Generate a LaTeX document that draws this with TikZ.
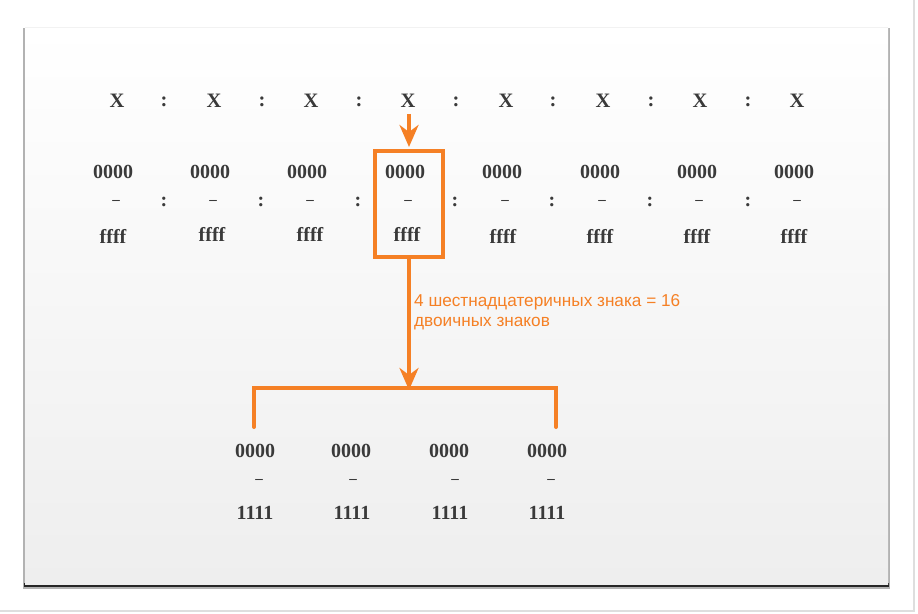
\documentclass[tikz,border=0pt]{standalone}
\usepackage{fontspec}
\setmainfont{Liberation Serif}
\newfontfamily\notefont{Liberation Sans}
\usetikzlibrary{arrows.meta}
\definecolor{hexorange}{RGB}{245,128,37}
\definecolor{digitgray}{RGB}{58,58,58}
\definecolor{panelgray}{RGB}{238,238,238}
\tikzset{
    hexchar/.style={text=digitgray,inner sep=0pt,font=\fontsize{20.5}{20.5}\selectfont\bfseries},
    bitchar/.style={text=digitgray,inner sep=0pt,font=\fontsize{20}{20}\selectfont\bfseries},
    dashchar/.style={text=digitgray,inner sep=0pt,font=\fontsize{15}{15}\selectfont\bfseries},
    orangeline/.style={draw=hexorange,line width=4pt},
    orangearrow/.style={hexorange,line width=4pt,-{Stealth[length=22pt,width=19pt,inset=7pt]}},
}
\begin{document}
\begin{tikzpicture}[x=1pt,y=-1pt]
        \useasboundingbox (0,0) rectangle (918,613);
        %% outer frame
        \draw[black!13,line width=1.5pt] (914,0) -- (914,611) -- (0,611);
        %% panel with shadow
        \fill[black!30] (23,28) rectangle (890,589);
        \fill[black!85] (24,583) rectangle (889,587);
        \shade[top color=white,middle color=white!97!black,bottom color=panelgray] (25,27) rectangle (888,584);
        \draw[black!5,line width=0.8pt] (25,27) -- (888,27);
        %% group of the address
        \node[hexchar] (x1) at (117,101) {X};
        \node[hexchar] (c1) at (164,102) {:};
        \node[hexchar] (x2) at (214,101) {X};
        \node[hexchar] (c2) at (262,102) {:};
        \node[hexchar] (x3) at (311,101) {X};
        \node[hexchar] (c3) at (359,102) {:};
        \node[hexchar] (x4) at (408,101) {X};
        \node[hexchar] (c4) at (456,102) {:};
        \node[hexchar] (x5) at (506,101) {X};
        \node[hexchar] (c5) at (553,102) {:};
        \node[hexchar] (x6) at (603,101) {X};
        \node[hexchar] (c6) at (651,102) {:};
        \node[hexchar] (x7) at (700,101) {X};
        \node[hexchar] (c7) at (748,102) {:};
        \node[hexchar] (x8) at (797,101) {X};
        %% ranges 0000 - ffff
        \node[bitchar] (lo1) at (113,172) {0000};
        \node[dashchar] (d1) at (116,202) {–};
        \node[bitchar] (hi1) at (113,236) {ffff};
        \node[bitchar] (s1) at (164,202) {:};
        \node[bitchar] (lo2) at (210,172) {0000};
        \node[dashchar] (d2) at (213,202) {–};
        \node[bitchar] (hi2) at (212,234) {ffff};
        \node[bitchar] (s2) at (261,202) {:};
        \node[bitchar] (lo3) at (307,172) {0000};
        \node[dashchar] (d3) at (310,202) {–};
        \node[bitchar] (hi3) at (310,234) {ffff};
        \node[bitchar] (s3) at (358,202) {:};
        \node[bitchar] (lo4) at (405,172) {0000};
        \node[dashchar] (d4) at (408,202) {–};
        \node[bitchar] (hi4) at (407,234) {ffff};
        \node[bitchar] (s4) at (455,202) {:};
        \node[bitchar] (lo5) at (502,172) {0000};
        \node[dashchar] (d5) at (505,202) {–};
        \node[bitchar] (hi5) at (503,236) {ffff};
        \node[bitchar] (s5) at (552,202) {:};
        \node[bitchar] (lo6) at (600,172) {0000};
        \node[dashchar] (d6) at (602,202) {–};
        \node[bitchar] (hi6) at (600,236) {ffff};
        \node[bitchar] (s6) at (650,202) {:};
        \node[bitchar] (lo7) at (697,172) {0000};
        \node[dashchar] (d7) at (699,202) {–};
        \node[bitchar] (hi7) at (697,236) {ffff};
        \node[bitchar] (s7) at (748,202) {:};
        \node[bitchar] (lo8) at (794,172) {0000};
        \node[dashchar] (d8) at (797,202) {–};
        \node[bitchar] (hi8) at (794,236) {ffff};
        %% highlighted group
        \node[orangeline,minimum width=68pt,minimum height=106pt] (hexbox) at (409,204) {};
        \draw[orangearrow] ([yshift=-6pt]x4.south -| hexbox.north) -- ([yshift=2pt]hexbox.north);
        %% split into bits
        \coordinate (split) at (409,388);
        \draw[orangearrow] (hexbox.south) -- ([yshift=-2pt]split);
        \draw[orangeline,line cap=round] (254,427) -- (254,388) -- (556,388) -- (556,427);
        \node[anchor=west,text=hexorange,align=left,inner sep=0pt,font=\notefont\fontsize{17.2}{20.5}\selectfont] (note) at (414,312) {4 шестнадцатеричных знака = 16\\двоичных знаков};
        %% four bits
        \node[bitchar] (b1) at (255,451) {0000};
        \node[dashchar] (e1) at (259,481) {–};
        \node[bitchar] (f1) at (255,513) {1111};
        \node[bitchar] (b2) at (351,451) {0000};
        \node[dashchar] (e2) at (353,481) {–};
        \node[bitchar] (f2) at (352,513) {1111};
        \node[bitchar] (b3) at (449,451) {0000};
        \node[dashchar] (e3) at (455,481) {–};
        \node[bitchar] (f3) at (450,513) {1111};
        \node[bitchar] (b4) at (547,451) {0000};
        \node[dashchar] (e4) at (551,481) {–};
        \node[bitchar] (f4) at (547,513) {1111};
    \end{tikzpicture}
\end{document}
